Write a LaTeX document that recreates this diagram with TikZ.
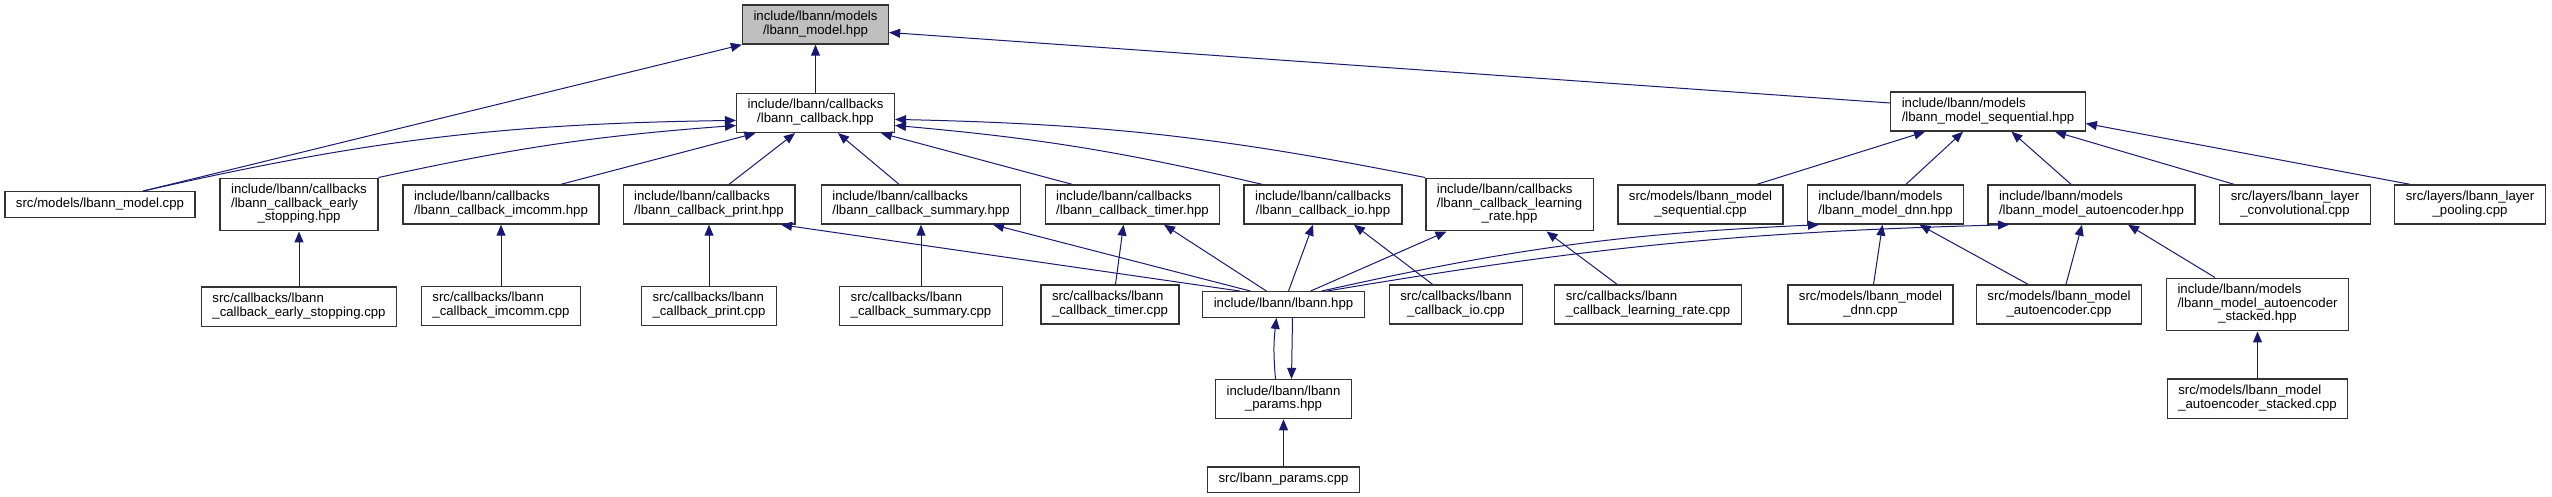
\documentclass[tikz,border=0pt]{standalone}
\usepackage{fontspec}
\setmainfont{Liberation Sans}
\usepackage{tikz}
\usetikzlibrary{arrows.meta,positioning}
\definecolor{edgeblue}{HTML}{191970}
\definecolor{rootgray}{HTML}{BFBFBF}
\tikzset{
  filebox/.style={draw=black!80, line width=1.3pt, fill=white,
    inner xsep=11pt, inner ysep=6pt, font=\fontsize{13.2}{13.3}\selectfont},
  rootbox/.style={filebox, fill=rootgray},
  incarrow/.style={-{Triangle[length=11pt,width=9pt]}, line width=1pt, draw=edgeblue}
}
\newcommand{\boxtext}[2]{\begin{tabular}{@{}l@{}}#1\multicolumn{1}{@{}c@{}}{#2}\end{tabular}}

\begin{document}
\begin{tikzpicture}[x=1pt, y=1pt]
        \useasboundingbox (0,0) rectangle (2552,-496);

        \node[rootbox] (model) at (815.5,-24.5) {\boxtext{include/lbann/models\\}{/lbann\_model.hpp}};
        \node[filebox, below=48pt of model] (callback) {\boxtext{include/lbann/callbacks\\}{/lbann\_callback.hpp}};
        \node[filebox] (sequential) at (1988,-111.5) {\boxtext{include/lbann/models\\}{/lbann\_model\_sequential.hpp}};

        \node[filebox] (modelcpp) at (100,-204.5) {\boxtext{}{src/models/lbann\_model.cpp}};
        \node[filebox] (early) at (299,-204.5) {\boxtext{include/lbann/callbacks\\/lbann\_callback\_early\\}{\_stopping.hpp}};
        \node[filebox] (imcomm) at (501,-204.5) {\boxtext{include/lbann/callbacks\\}{/lbann\_callback\_imcomm.hpp}};
        \node[filebox] (print) at (709,-204.5) {\boxtext{include/lbann/callbacks\\}{/lbann\_callback\_print.hpp}};
        \node[filebox] (summary) at (921,-204.5) {\boxtext{include/lbann/callbacks\\}{/lbann\_callback\_summary.hpp}};
        \node[filebox] (timer) at (1132.5,-204.5) {\boxtext{include/lbann/callbacks\\}{/lbann\_callback\_timer.hpp}};
        \node[filebox] (io) at (1323,-204.5) {\boxtext{include/lbann/callbacks\\}{/lbann\_callback\_io.hpp}};
        \node[filebox] (lrate) at (1509.5,-204.5) {\boxtext{include/lbann/callbacks\\/lbann\_callback\_learning\\}{\_rate.hpp}};
        \node[filebox] (seqcpp) at (1700.5,-204.5) {\boxtext{src/models/lbann\_model\\}{\_sequential.cpp}};
        \node[filebox] (dnn) at (1885.5,-204.5) {\boxtext{include/lbann/models\\}{/lbann\_model\_dnn.hpp}};
        \node[filebox] (autoenc) at (2091.5,-204.5) {\boxtext{include/lbann/models\\}{/lbann\_model\_autoencoder.hpp}};
        \node[filebox] (conv) at (2295,-204.5) {\boxtext{src/layers/lbann\_layer\\}{\_convolutional.cpp}};
        \node[filebox] (pool) at (2470,-204.5) {\boxtext{src/layers/lbann\_layer\\}{\_pooling.cpp}};

        \node[filebox, below=55pt of early] (earlycpp) {\boxtext{src/callbacks/lbann\\}{\_callback\_early\_stopping.cpp}};
        \node[filebox, below=61pt of imcomm] (imcommcpp) {\boxtext{src/callbacks/lbann\\}{\_callback\_imcomm.cpp}};
        \node[filebox, below=61pt of print] (printcpp) {\boxtext{src/callbacks/lbann\\}{\_callback\_print.cpp}};
        \node[filebox, below=61pt of summary] (summarycpp) {\boxtext{src/callbacks/lbann\\}{\_callback\_summary.cpp}};
        \node[filebox] (timercpp) at (1110,-304.5) {\boxtext{src/callbacks/lbann\\}{\_callback\_timer.cpp}};
        \node[filebox] (lbann) at (1283.5,-304.5) {\boxtext{}{include/lbann/lbann.hpp}};
        \node[filebox] (iocpp) at (1456,-304.5) {\boxtext{src/callbacks/lbann\\}{\_callback\_io.cpp}};
        \node[filebox] (lratecpp) at (1648,-304.5) {\boxtext{src/callbacks/lbann\\}{\_callback\_learning\_rate.cpp}};
        \node[filebox] (dnncpp) at (1870.5,-304.5) {\boxtext{src/models/lbann\_model\\}{\_dnn.cpp}};
        \node[filebox] (autoenccpp) at (2059,-304.5) {\boxtext{src/models/lbann\_model\\}{\_autoencoder.cpp}};
        \node[filebox] (stacked) at (2257.5,-304.5) {\boxtext{include/lbann/models\\/lbann\_model\_autoencoder\\}{\_stacked.hpp}};

        \node[filebox, below=61pt of lbann] (params) {\boxtext{include/lbann/lbann\\}{\_params.hpp}};
        \node[filebox, below=47pt of stacked] (stackedcpp) {\boxtext{src/models/lbann\_model\\}{\_autoencoder\_stacked.cpp}};
        \node[filebox, below=47pt of params] (paramscpp) {\boxtext{}{src/lbann\_params.cpp}};

        \draw[incarrow] (callback) -- (model);
        \draw[incarrow] ([xshift=43pt]modelcpp.north) -- (model.south west);
        \draw[incarrow] ([yshift=8.5pt]sequential.west) -- ([yshift=-8pt]model.east);

        \draw[incarrow] ([xshift=43pt]modelcpp.north) to[bend left=6] ([yshift=-7.5pt]callback.west);
        \draw[incarrow] (early.north east) to[bend left=4] ([yshift=-12.5pt]callback.west);
        \draw[incarrow] ([xshift=60pt]imcomm.north) -- ([xshift=-60pt]callback.south);
        \draw[incarrow] ([xshift=20pt]print.north) -- ([xshift=-20.5pt]callback.south);
        \draw[incarrow] ([xshift=-22pt]summary.north) -- ([xshift=22.5pt]callback.south);
        \draw[incarrow] ([xshift=-60.5pt]timer.north) -- ([xshift=65.5pt]callback.south);
        \draw[incarrow] ([xshift=-61pt]io.north) to[bend right=4] ([yshift=-12.5pt]callback.east);
        \draw[incarrow] (lrate.north west) to[bend right=5] ([yshift=-6.5pt]callback.east);

        \draw[incarrow] ([xshift=56.5pt]seqcpp.north) -- ([xshift=-63pt]sequential.south);
        \draw[incarrow] ([xshift=20.5pt]dnn.north) -- ([xshift=-25pt]sequential.south);
        \draw[incarrow] ([xshift=-20.5pt]autoenc.north) -- ([xshift=23.5pt]sequential.south);
        \draw[incarrow] ([xshift=-61pt]conv.north) -- ([xshift=67pt]sequential.south);
        \draw[incarrow] ([xshift=-60pt]pool.north) -- ([yshift=-12pt]sequential.east);

        \draw[incarrow] (earlycpp) -- (early);
        \draw[incarrow] (imcommcpp) -- (imcomm);
        \draw[incarrow] (printcpp) -- (print);
        \draw[incarrow] (summarycpp) -- (summary);
        \draw[incarrow] ([xshift=5.5pt]timercpp.north) -- ([xshift=-9pt]timer.south);
        \draw[incarrow] ([xshift=-23.5pt]iocpp.north) -- ([xshift=31pt]io.south);
        \draw[incarrow] ([xshift=-31pt]lratecpp.north) -- ([xshift=37pt]lrate.south);

        \draw[incarrow] ([xshift=-43.5pt]lbann.north) -- ([xshift=72pt]print.south);
        \draw[incarrow] ([xshift=-33pt]lbann.north) -- ([xshift=72pt]summary.south);
        \draw[incarrow] ([xshift=-17pt]lbann.north) -- ([xshift=31.5pt]timer.south);
        \draw[incarrow] ([xshift=5pt]lbann.north) -- ([xshift=-10pt]io.south);
        \draw[incarrow] ([xshift=27pt]lbann.north) -- ([xshift=-63pt]lrate.south);
        \draw[incarrow] ([xshift=38pt]lbann.north) to[bend left=5] ([xshift=-66.5pt]dnn.south);
        \draw[incarrow] ([xshift=43.5pt]lbann.north) to[bend left=4] ([xshift=-82.5pt]autoenc.south);

        \draw[incarrow] (dnncpp) -- (dnn);
        \draw[incarrow] ([xshift=-31pt]autoenccpp.north) -- ([xshift=34pt]dnn.south);
        \draw[incarrow] ([xshift=7pt]autoenccpp.north) -- ([xshift=-9.5pt]autoenc.south);
        \draw[incarrow] ([xshift=-42.5pt]stacked.north) -- ([xshift=36.5pt]autoenc.south);
        \draw[incarrow] (stackedcpp) -- (stacked);

        \draw[incarrow] ([xshift=-8pt]params.north) to[bend left=6] ([xshift=-7pt]lbann.south);
        \draw[incarrow] ([xshift=9pt]lbann.south) -- ([xshift=8pt]params.north);
        \draw[incarrow] (paramscpp) -- (params);
    \end{tikzpicture}
\end{document}
